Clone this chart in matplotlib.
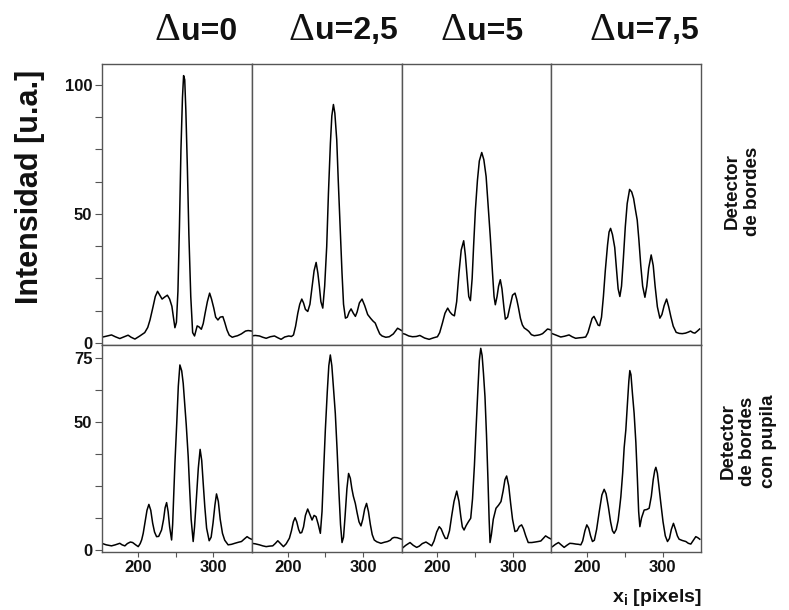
import matplotlib
matplotlib.use("Agg")
import matplotlib.pyplot as plt
from matplotlib.ticker import FixedLocator, MultipleLocator
from matplotlib.offsetbox import TextArea, HPacker, AnnotationBbox

plt.rcParams['font.family'] = ['Liberation Sans', 'DejaVu Sans']
plt.rcParams['mathtext.fontset'] = 'custom'
plt.rcParams['mathtext.bf'] = 'Liberation Sans:bold'
plt.rcParams['mathtext.rm'] = 'Liberation Sans'

# ---- column labels (shift Δu) and row labels ----
shift_values = ["0", "2,5", "5", "7,5"]
row_labels = ["Detector\nde bordes", "Detector\nde bordes\ncon pupila"]

# ---- edge detector (top row) ----
x_top_0 = [152, 158, 165, 170, 176, 181, 187, 191, 196, 202, 209, 213, 216, 220, 223, 226, 229,
           232, 235.5, 239, 242, 245, 247, 249, 251, 253, 255, 257, 259, 260.5, 262, 263.5,
           265.5, 267.5, 270, 272.5, 275, 278.5, 281, 284, 286.5, 289, 292, 295, 297.5, 300.5,
           303, 306, 309, 312.5, 315, 318, 321, 325, 328, 332, 337, 342.5, 346, 351]
y_top_0 = [2.2, 2.6, 3.1, 2.4, 1.7, 2.3, 3.0, 2.2, 1.5, 2.6, 4.0, 6, 8.9, 14, 18, 20, 18.5,
           17, 17.8, 18.5, 17, 14.2, 10, 5.9, 8, 20, 45, 75, 95, 103.6, 102, 90,
           68, 42, 18, 4, 2.7, 6.6, 6.2, 5.3, 7.5, 11.5, 16, 19.3, 17, 13.5,
           10, 8.9, 10, 10.2, 8, 5.0, 3, 2.2, 2.5, 2.8, 3.5, 4.6, 4.8, 4.6]

x_top_25 = [152, 157, 162.6, 167, 171.5, 177, 182.5, 187, 191.3, 196, 201.5, 205, 207.7, 210.5,
            213.4, 216, 218.7, 221, 223.5, 226.6, 229.5, 232.4, 235, 237.7, 240, 242, 244,
            246.5, 249, 251.7, 254, 256.6, 258.5, 260.6, 262.5, 265, 267, 269.5, 272, 274,
            276.5, 279, 281.5, 284, 287, 289.7, 292, 295, 298.5, 302, 306, 310, 313, 316, 319,
            322, 325, 330, 334.6, 340, 345.6, 348, 351]
y_top_25 = [2.7, 2.9, 2.7, 2.2, 1.8, 2.4, 2.7, 2.0, 1.4, 2.3, 2.7, 2.5, 3.1, 6.5,
            11.5, 15, 17, 15.5, 13, 12.2, 15, 21.9, 28, 31.2, 27, 21.9, 16,
            13.5, 22, 37.3, 58, 77.4, 88, 92.4, 89, 78.7, 63, 45, 27, 15,
            9.6, 10, 12, 13.2, 11.5, 10.3, 12, 15.5, 17, 14.5, 11, 9.5, 8.5, 7.7, 5.5,
            3.5, 2.7, 2.2, 2.4, 3.5, 5.7, 5.3, 4.8]

x_top_5 = [152, 157, 162, 167, 172, 176.7, 183, 189, 195, 200, 203, 206.6, 210, 213.6, 216.5,
           219.5, 222.5, 225.5, 228.5, 231.5, 234.8, 237, 239.5, 241.5, 243.7, 246, 248, 250.3,
           253, 255.5, 258.7, 261.5, 264.5, 267, 270, 273, 275, 276.7, 279, 281, 283.3, 285.5,
           288, 290, 293, 296, 299.5, 302.8, 305, 307, 310, 312.5, 315, 318, 321, 324.5, 328.2,
           333, 336, 339.3, 343, 345.9, 348.5, 351]
y_top_5 = [3.8, 3.4, 2.7, 2.4, 2.5, 2.9, 1.9, 1.4, 2.0, 2.4, 4.0, 7.7, 11.5, 13.5, 12,
           11, 10.5, 16, 27, 36, 39.6, 34, 25, 18, 16.4, 25, 38, 51.6,
           63, 70.5, 73.8, 71, 64.5, 54, 41.3, 27, 18, 14.8, 18, 22, 24.5, 21,
           14, 9.2, 10, 14, 18.5, 19.3, 17, 14.2, 9.5, 7, 5.8, 5.2, 4.5, 3.2, 2.8,
           3.0, 3.2, 3.6, 4.6, 5.4, 5.2, 4.9]

x_top_75 = [153.7, 159, 165, 170, 176, 180, 184.7, 190, 194, 198, 201, 204, 206.5, 209, 212,
            214.5, 216.5, 219, 221.5, 224, 227, 229, 231, 233.5, 236.5, 239, 241, 243.3, 245.5,
            248, 250.5, 253, 256.2, 259, 261.5, 264, 266.3, 268.5, 271, 273.5, 276.5, 279,
            281.5, 284.8, 287.5, 290, 293, 296.3, 299, 302, 305.2, 308, 311, 314, 317.9, 322,
            326, 330.3, 334, 337, 340, 342.7, 346, 349]
y_top_75 = [3.6, 3.0, 2.3, 2.6, 3.1, 2.4, 1.8, 2.0, 2.1, 2.3, 4, 7, 9.5, 10.3, 8.5,
            6.9, 6.7, 10, 18, 28, 38, 43, 44.4, 42, 37, 28, 21, 18, 22,
            33, 45, 54, 59.5, 58.5, 56, 51.5, 47.6, 40, 30, 22, 17.7, 22,
            29, 34.1, 30, 22, 14, 9.6, 11, 14.5, 17, 14, 10, 6.5, 4.1, 3.7,
            3.6, 3.8, 4.2, 4.6, 4.0, 3.8, 4.6, 5.4]

# ---- edge detector with pupil (bottom row) ----
x_bot_0 = [152, 158, 165, 170, 176, 179, 182.7, 186, 190, 193, 197, 200.4, 203, 205, 207, 209.5,
           212, 214.5, 217, 219.5, 222, 224.7, 227.5, 231.3, 234, 236, 238, 240, 242, 244.6,
           246, 247.5, 249, 251.5, 253.5, 255.6, 258, 260, 262, 264, 266.6, 268.5, 270.5,
           273.2, 275, 277.6, 280, 282.4, 284.5, 286.5, 288.6, 291, 294.4, 297, 299.5, 302,
           304.1, 306.5, 309, 312, 315, 319.5, 324, 328.3, 333, 337.2, 341, 344.6, 347.5, 350.4]
y_bot_0 = [2.6, 2.0, 1.6, 2.0, 2.6, 2.0, 1.6, 2.5, 3.1, 2.9, 2.0, 1.3, 2.5, 4.0, 6.5, 11,
           15.5, 17.8, 15.5, 10.5, 7, 5.2, 5.3, 7.8, 12, 16.5, 18.5, 15, 9, 3.9,
           10, 22, 33.8, 50, 64, 72.3, 70, 65.1, 57, 49, 36.5, 24, 12,
           3.3, 9, 20.8, 32, 39.3, 35, 26, 16.9, 8.5, 3.6, 5, 10.5, 17.5,
           21.9, 19, 12, 6.5, 3.8, 2.0, 2.2, 2.6, 3.0, 3.3, 4.3, 5.2, 4.6, 4.2]

x_bot_25 = [152, 157, 162.6, 167, 171.5, 176, 180.2, 183.5, 186.9, 190.5, 194.4, 198, 202.3,
            205, 207.5, 209.8, 212, 214.5, 216.5, 218.6, 221, 223.5, 226.5, 229.5, 232.3, 235,
            237.6, 240.5, 243.3, 245.5, 247.5, 249.9, 252.5, 254.5, 256.5, 258.5, 260.5, 263.1,
            265.5, 268, 270, 272, 274, 276, 278.5, 280.7, 283, 285, 287, 289.6, 292, 294.5,
            297.1, 299.5, 302, 304.5, 307, 309.5, 312, 314.7, 318, 323.6, 328, 332.3, 336,
            338.5, 341.2, 345, 348, 350.9]
y_bot_25 = [2.6, 2.4, 2.0, 1.6, 1.3, 1.5, 1.6, 2.5, 3.6, 2.5, 1.3, 2.4, 4.6,
            7.5, 11, 12.6, 11, 8, 6.6, 6.8, 9, 13.5, 16, 13.8, 11.7, 13.5,
            13, 10, 6.5, 15, 30, 46.9, 62, 72, 76.2, 72, 64, 53.4,
            39, 22, 10, 2.9, 5, 13, 24, 29.9, 28, 24, 21, 18.2, 14.5, 11,
            9.4, 12, 16, 18.2, 15, 10, 6, 3.9, 3.2, 2.6, 3.0, 3.3, 3.8,
            4.6, 4.9, 4.8, 4.5, 4.2]

x_bot_5 = [153.5, 158, 163.7, 168, 172.5, 176, 180, 184.8, 188.5, 192.4, 195.5, 199, 202.4, 205,
           208, 210.5, 213, 216, 219, 222, 225.6, 228.5, 231, 233, 235.3, 238, 241, 244.1,
           246.5, 249, 251.1, 253.5, 255.5, 257.4, 259.2, 261, 263, 265, 267, 268.5, 269.7,
           271.5, 274, 277.6, 281, 284.2, 287, 289.5, 291.7, 294.5, 297, 299.5, 302.7, 305.5,
           308.5, 311.5, 314, 317, 320.3, 325, 329.5, 333.5, 337, 340.5, 343.3, 347, 351]
y_bot_5 = [0.7, 1.8, 2.9, 1.8, 1.0, 1.5, 2.5, 3.1, 2.4, 1.6, 3.5, 7, 9.1, 8.2,
           6, 4.5, 4.5, 7.5, 13.5, 19, 23.0, 19, 13, 9, 7.8, 9.5, 11, 12.4,
           20, 33, 46.9, 62, 74, 78.8, 76, 69, 59.9, 45, 27, 12, 2.9,
           6, 12, 16.3, 17.5, 18.9, 23, 27.5, 28.9, 25, 18.2, 12, 7.2, 7.5,
           9.2, 9.8, 8.3, 5.5, 2.9, 2.9, 3.1, 3.3, 3.5, 4.6, 5.5, 4.8, 4.2]

x_bot_75 = [154, 158, 162, 165.5, 169.5, 173, 177, 181, 185, 188.5, 191.6, 194, 197, 199.5,
            202, 204.5, 207, 209.5, 212.5, 216, 219.5, 222.5, 225, 228, 231, 233.5, 235.7,
            238.5, 241, 243, 244.6, 247, 249, 251.2, 253.5, 255.2, 256.5, 258, 260, 262.2,
            264.5, 266.5, 268.2, 269.8, 272, 275.5, 279, 282.1, 285, 287.5, 289.5, 291, 293,
            295, 297.6, 300.5, 303.5, 306.4, 309, 311.5, 314.3, 317, 319.5, 321.8, 326, 330.7,
            334, 337.3, 340.5, 343.9, 346.5, 349.2]
y_bot_75 = [1.3, 2.2, 2.9, 2.0, 1.0, 1.8, 2.6, 2.5, 2.3, 2.2, 2.0, 3.5, 7.5, 9.8,
            8.5, 5.5, 3.3, 3.8, 8, 15, 21.5, 23.7, 22, 17, 11, 7.5, 6.5,
            8, 11.5, 16.5, 20.8, 30, 40, 46.9, 58, 66, 70.1, 68.5, 61, 53.4,
            42, 28, 15, 9.1, 12.5, 15.6, 15.8, 16.3, 21, 27.5, 31, 32.3, 30,
            25, 18.2, 11, 5.5, 3.3, 4.5, 8, 10.4, 8, 5.5, 4.2, 3.7, 3.3,
            2.6, 2.3, 3.7, 5.2, 4.8, 4.2]

top_series = [(x_top_0, y_top_0), (x_top_25, y_top_25), (x_top_5, y_top_5), (x_top_75, y_top_75)]
bot_series = [(x_bot_0, y_bot_0), (x_bot_25, y_bot_25), (x_bot_5, y_bot_5), (x_bot_75, y_bot_75)]

W, H = 789, 610
fig = plt.figure(figsize=(W / 100, H / 100), dpi=100)
gs = fig.add_gridspec(2, 4, left=102 / W, right=701 / W, top=1 - 64 / H, bottom=1 - 552 / H,
                      hspace=0, wspace=0, height_ratios=[281, 207])

frame_color = '#555555'
text_color = '#111111'
for r, series in enumerate([top_series, bot_series]):
    for c, (xs, ys) in enumerate(series):
        ax = fig.add_subplot(gs[r, c])
        ax.plot(xs, ys, color='black', lw=1.1, solid_joinstyle='round')
        ax.set_xlim(152.4, 350.8)
        if r == 0:
            ax.set_ylim(-0.8, 108.1)
            ax.yaxis.set_major_locator(FixedLocator([0, 50, 100]))
        else:
            ax.set_ylim(-0.8, 80.1)
            ax.yaxis.set_major_locator(FixedLocator([0, 50, 75]))
        ax.yaxis.set_minor_locator(MultipleLocator(12.5))
        ax.xaxis.set_major_locator(FixedLocator([200, 300]))
        ax.xaxis.set_minor_locator(FixedLocator([250]))
        for sp in ax.spines.values():
            sp.set_color(frame_color)
            sp.set_linewidth(1.0)
        ax.tick_params(which='both', direction='out', length=5, width=0.8, color=frame_color,
                       labelsize=12, pad=2, labelcolor=text_color)
        ax.tick_params(axis='x', which='both', length=3.5)
        for lab in ax.get_xticklabels() + ax.get_yticklabels():
            lab.set_fontweight('bold')
        if c != 0:
            ax.tick_params(axis='y', which='both', left=False, labelleft=False)
        if r == 0:
            ax.tick_params(axis='x', which='both', bottom=False, labelbottom=False)

# column headings: Δu=...
title_centers = [196, 343, 482, 644]
for val, cx in zip(shift_values, title_centers):
    delta = TextArea("Δ", textprops=dict(fontsize=29, fontweight='normal',
                                         family=['Liberation Serif', 'DejaVu Serif'],
                                         color=text_color))
    rest = TextArea("u=" + val, textprops=dict(fontsize=23, fontweight='bold', color=text_color))
    pack = HPacker(children=[delta, rest], align="baseline", pad=0, sep=0)
    ab = AnnotationBbox(pack, (cx / W, 1 - 30 / H), xycoords='figure fraction',
                        frameon=False, box_alignment=(0.5, 0.5))
    fig.add_artist(ab)

fig.text(30 / W, 1 - 187 / H, "Intensidad [u.a.]", rotation=90, ha='center', va='center',
         fontsize=22, fontweight='bold', color=text_color)

fig.text(742 / W, 1 - 191 / H, row_labels[0], rotation=90, ha='center', va='center',
         multialignment='center', fontsize=13.5, fontweight='bold', linespacing=1.25,
         color=text_color)
fig.text(748 / W, 1 - 441 / H, row_labels[1], rotation=90, ha='center', va='center',
         multialignment='center', fontsize=13.5, fontweight='bold', linespacing=1.25,
         color=text_color)

fig.text(702 / W, 1 - 597 / H, r"$\mathbf{x_i}$ [pixels]", ha='right', va='center',
         fontsize=14, fontweight='bold', color=text_color)

fig.savefig("out.png", dpi=100)
